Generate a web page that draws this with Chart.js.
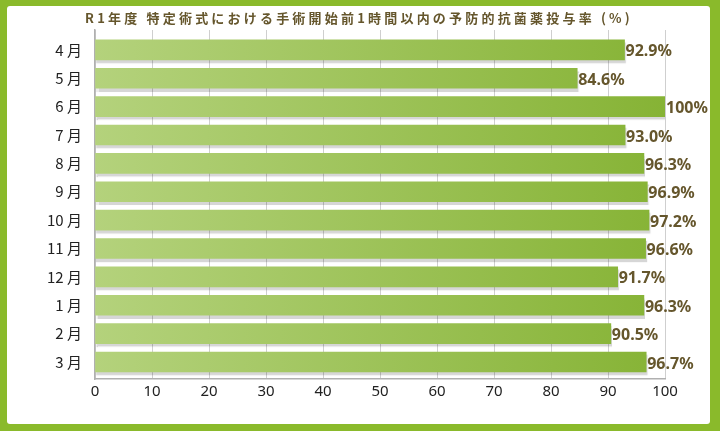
<!DOCTYPE html>
<html>
<head>
<meta charset="utf-8">
<script src="https://cdn.jsdelivr.net/npm/chart.js@4"></script>
<style>
  html, body { margin: 0; padding: 0; }
  body { width: 720px; height: 431px; background: #8aba2b; position: relative; overflow: hidden; }
  #panel { position: absolute; left: 7px; top: 6px; width: 703px; height: 418px; background: #fff; border-radius: 3px; }
  #wrap { position: absolute; left: 0; top: 0; width: 720px; height: 431px; }
</style>
</head>
<body>
<div id="panel"></div>
<div id="wrap"><canvas id="myChart" width="720" height="431"></canvas></div>
<script>
const title = 'R1年度 特定術式における手術開始前1時間以内の予防的抗菌薬投与率 (%)';
const months = ['4 月', '5 月', '6 月', '7 月', '8 月', '9 月', '10 月', '11 月', '12 月', '1 月', '2 月', '3 月'];
const rates = [92.9, 84.6, 100, 93.0, 96.3, 96.9, 97.2, 96.6, 91.7, 96.3, 90.5, 96.7];

const brown = '#65562c';

// Title, bar shadow and value labels
const extras = {
    id: 'extras',
    beforeDatasetsDraw(chart) {
        const ctx = chart.ctx;
        ctx.save();
        ctx.shadowColor = 'rgba(0, 0, 0, 0.16)';
        ctx.shadowOffsetY = 3;
        ctx.shadowOffsetX = 1;
        ctx.shadowBlur = 1;
    },
    afterDatasetsDraw(chart) {
        const ctx = chart.ctx;
        ctx.restore();
        ctx.save();
        ctx.fillStyle = brown;
        ctx.font = 'bold 16px "Noto Sans"';
        ctx.textBaseline = 'middle';
        ctx.textAlign = 'left';
        chart.getDatasetMeta(0).data.forEach((bar, i) => {
            const v = rates[i];
            const txt = (v === 100 ? '100' : v.toFixed(1)) + '%';
            ctx.fillText(txt, bar.x + 1, bar.y + 2);
        });
        ctx.restore();
    },
    afterDraw(chart) {
        const ctx = chart.ctx;
        ctx.save();
        ctx.fillStyle = brown;
        ctx.font = 'bold 13px "Noto Sans CJK JP"';
        ctx.letterSpacing = '3.2px';
        ctx.textAlign = 'center';
        ctx.textBaseline = 'alphabetic';
        ctx.fillText(title, 359, 23);
        ctx.restore();
    }
};

const ctx = document.getElementById('myChart').getContext('2d');

new Chart(ctx, {
    type: 'bar',
    data: {
        datasets: [{
            data: rates.map((v, i) => ({ x: v, y: i })),
            backgroundColor(c) {
                const area = c.chart.chartArea;
                if (!area) return '#9cc453';
                const g = c.chart.ctx.createLinearGradient(area.left, 0, area.right, 0);
                g.addColorStop(0, '#b4d27c');
                g.addColorStop(1, '#86b335');
                return g;
            },
            borderWidth: 0,
            barThickness: 20
        }]
    },
    options: {
        indexAxis: 'y',
        responsive: false,
        animation: false,
        layout: { padding: { top: 30, right: 55, left: 0, bottom: 0 } },
        plugins: {
            legend: { display: false },
            tooltip: { enabled: false }
        },
        scales: {
            x: {
                type: 'linear',
                min: 0,
                max: 100,
                ticks: {
                    stepSize: 10,
                    color: '#222',
                    font: { family: '"Noto Sans"', size: 15 },
                    padding: 4
                },
                grid: { color: '#cfcfcf', lineWidth: 1, drawTicks: false },
                border: { color: '#b0b0b0', width: 1.5 },
                afterFit(scale) { scale.height = 52; }
            },
            y: {
                type: 'linear',
                reverse: true,
                offset: false,
                min: -0.7,
                max: 11.6,
                afterBuildTicks(scale) {
                    scale.ticks = months.map((_, i) => ({ value: i }));
                },
                ticks: {
                    autoSkip: false,
                    color: '#222',
                    font: { family: '"Noto Sans CJK JP"', size: 15 },
                    padding: 13,
                    callback: (v) => months[v]
                },
                grid: { display: false, drawTicks: false, offset: false },
                border: { color: '#b0b0b0', width: 1.5 },
                afterFit(scale) { scale.width = 95; }
            }
        }
    },
    plugins: [extras]
});
</script>
</body>
</html>
